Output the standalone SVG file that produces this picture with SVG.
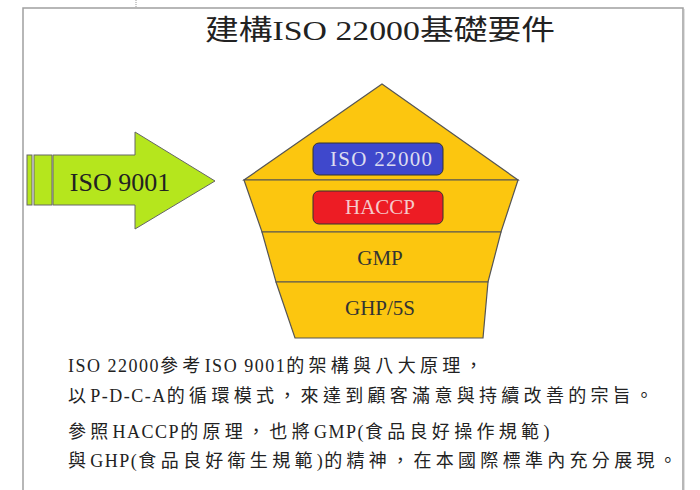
<svg xmlns="http://www.w3.org/2000/svg" width="700" height="490" viewBox="0 0 700 490">
<defs>
<style>
.frame{fill:none;stroke:#a0a0a0;stroke-width:1.5}
.serif{font-family:"Liberation Serif","Noto Sans CJK TC",serif}
.cjk{font-family:"Liberation Serif","Noto Sans CJK TC",serif;fill:#222}
.layer{fill:#FCC60F;stroke:#555;stroke-width:1.2}
.lbl{font-family:"Liberation Serif",serif;font-size:21px;text-anchor:middle}
.l{font-family:"Liberation Serif",serif;letter-spacing:1.5px}
.c{font-family:"Noto Sans CJK TC","Noto Sans CJK SC",sans-serif;letter-spacing:4.3px}
</style>
</defs>
<rect width="700" height="490" fill="#fff"/>
<path class="frame" d="M23,490 V8 H683 V490"/>
<line x1="684.5" y1="9" x2="684.5" y2="490" stroke="#e0e0e0" stroke-width="1"/>
<line x1="136" y1="0" x2="136" y2="8" stroke="#999" stroke-width="1" stroke-dasharray="1,1"/>

<g id="title">
<text class="cjk" x="205" y="40" font-size="28" textLength="350" lengthAdjust="spacingAndGlyphs">建構ISO 22000基礎要件</text>
</g>

<g id="iso9001">
<rect x="27" y="155" width="5" height="50" fill="#B5E61D" stroke="#666" stroke-width="1"/>
<rect x="34" y="155" width="18" height="50" fill="#B5E61D" stroke="#666" stroke-width="1"/>
<polygon points="53,155 135,155 135,132 215,181 135,229 135,205 53,205" fill="#B5E61D" stroke="#666" stroke-width="1"/>
<text class="serif" x="120" y="191" font-size="26" text-anchor="middle" fill="#222">ISO 9001</text>
</g>

<g id="pentagon">
<polygon class="layer" points="382,84 518,180 244,180"/>
<polygon class="layer" points="244,180 518,180 501,232 262,232"/>
<polygon class="layer" points="262,232 501,232 488,282 276,282"/>
<polygon class="layer" points="276,282 488,282 483,338 295,338"/>
</g>

<g id="iso22000">
<rect x="313" y="143" width="130" height="32" rx="6" fill="#3F48CC" stroke="#333" stroke-width="1"/>
<text class="lbl" x="381" y="166" fill="#dcdcf0" textLength="102" lengthAdjust="spacing">ISO  22000</text>
</g>
<g id="haccp">
<rect x="313" y="191" width="130" height="33" rx="6" fill="#ED1C24" stroke="#333" stroke-width="1"/>
<text class="lbl" x="380" y="214" fill="#f5caca">HACCP</text>
</g>
<g id="gmp">
<text class="lbl" x="380" y="265" fill="#333">GMP</text>
</g>
<g id="ghp">
<text class="lbl" x="380" y="315" fill="#333">GHP/5S</text>
</g>

<g id="connectors"/>

<g id="description" font-size="18" fill="#222">
<text x="68" y="372"><tspan class="l">ISO 22000</tspan><tspan class="c">參考</tspan><tspan class="l">ISO 9001</tspan><tspan class="c">的架構與八大原理，</tspan></text>
<text x="68" y="402"><tspan class="c">以</tspan><tspan class="l">P-D-C-A</tspan><tspan class="c">的循環模式，來達到顧客滿意與持續改善的宗旨。</tspan></text>
<text x="68" y="438"><tspan class="c">參照</tspan><tspan class="l">HACCP</tspan><tspan class="c">的原理，也將</tspan><tspan class="l">GMP(</tspan><tspan class="c">食品良好操作規範</tspan><tspan class="l">)</tspan></text>
<text x="68" y="467"><tspan class="c">與</tspan><tspan class="l">GHP(</tspan><tspan class="c">食品良好衛生規範</tspan><tspan class="l">)</tspan><tspan class="c">的精神，在本國際標準內充分展現。</tspan></text>
</g>
</svg>
